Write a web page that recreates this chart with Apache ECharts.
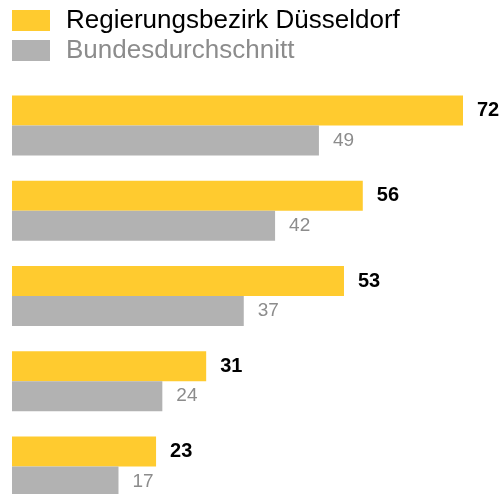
<!DOCTYPE html>
<html>
<head>
<meta charset="utf-8">
<script src="https://cdn.jsdelivr.net/npm/echarts@6/dist/echarts.min.js"></script>
<style>
  html, body { margin: 0; padding: 0; background: #fff; }
  #main { width: 502px; height: 494px; }
</style>
</head>
<body>
<div id="main"></div>
<script>
var myChart = echarts.init(document.getElementById('main'));

const categories = ['A', 'B', 'C', 'D', 'E'];
const regionValues = [72, 56, 53, 31, 23];
const federalValues = [49, 42, 37, 24, 17];
const seriesNames = ['Regierungsbezirk Düsseldorf', 'Bundesdurchschnitt'];

// text sits a bit higher than the legend square in the original
const legendFont = { fontFamily: 'Liberation Sans, Arial', fontSize: 26, lineHeight: 21, padding: [0, 0, 10, 11] };

const option = {
  animation: false,
  legend: {
    orient: 'vertical',
    left: 12,
    top: 5,
    padding: 0,
    itemWidth: 38,
    itemHeight: 21,
    itemGap: -1,
    icon: 'rect',
    textStyle: legendFont,
    data: [
      { name: seriesNames[0], textStyle: Object.assign({ color: '#000' }, legendFont) },
      { name: seriesNames[1], textStyle: Object.assign({ color: '#8c8c8c' }, legendFont) }
    ]
  },
  grid: { left: 12, top: 83, width: 451, height: 426, outerBoundsMode: 'none' },
  xAxis: { type: 'value', min: 0, max: 72, show: false },
  yAxis: {
    type: 'category',
    data: categories,
    inverse: true,
    show: false
  },
  series: [
    {
      name: seriesNames[0],
      type: 'bar',
      data: regionValues,
      barWidth: 30,
      barGap: 0,
      itemStyle: { color: '#ffcb2f' },
      label: {
        show: true,
        position: 'right',
        distance: 14,
        fontFamily: 'Liberation Sans, Arial',
        fontSize: 20,
        fontWeight: 'bold',
        color: '#000'
      }
    },
    {
      name: seriesNames[1],
      type: 'bar',
      data: federalValues,
      barWidth: 30,
      barGap: 0,
      itemStyle: { color: '#b2b2b2' },
      label: {
        show: true,
        position: 'right',
        distance: 14,
        fontFamily: 'Liberation Sans, Arial',
        fontSize: 19,
        color: '#8c8c8c'
      }
    }
  ]
};

myChart.setOption(option);
</script>
</body>
</html>
